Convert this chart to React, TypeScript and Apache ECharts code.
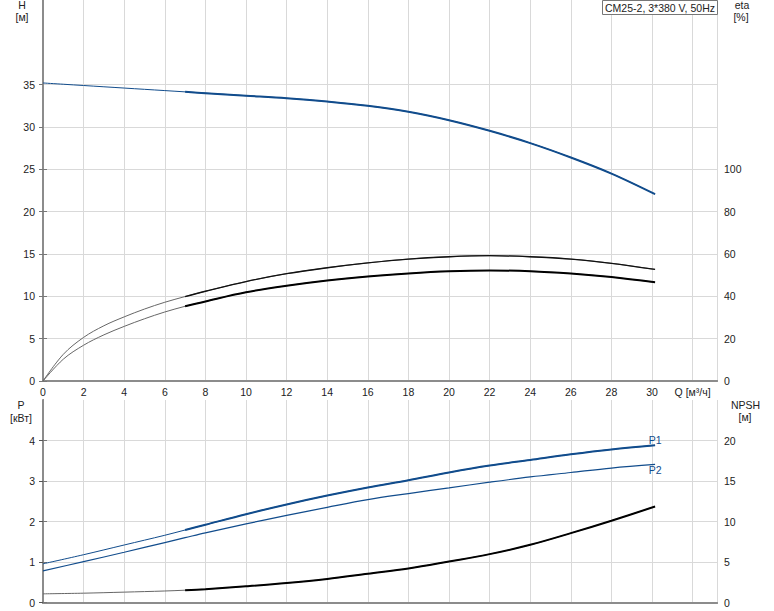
import React, { useEffect, useRef } from "react";
import * as echarts from "echarts";

// ---- Data ----
const TITLE = "CM25-2, 3*380 V, 50Hz";

// Top plot flow points [м³/ч]
const Q_TOP = [0, 1, 2, 3, 4, 5, 6, 7, 8, 10, 12, 14, 16, 18, 20, 22, 24, 26, 28, 30.15];
// Flow where the bold (operating) part of the curves starts
const Q_BOLD_FROM = 7;

// Head H [м]
const H = [35.2, 35.05, 34.9, 34.75, 34.6, 34.45, 34.3, 34.15, 34.0, 33.7, 33.4, 33.0, 32.5, 31.8, 30.8, 29.55, 28.1, 26.4, 24.5, 22.07];

// Efficiency eta [%] (upper thin curve and lower bold curve)
const ETA1 = [0, 12.6, 20.6, 26.1, 30.3, 34.0, 37.2, 39.9, 42.4, 47.0, 50.7, 53.5, 55.8, 57.6, 58.7, 59.2, 58.7, 57.6, 55.6, 52.7];
const ETA2 = [0, 10.3, 16.9, 21.8, 25.8, 29.4, 32.6, 35.3, 37.6, 41.9, 45.0, 47.5, 49.4, 50.8, 51.8, 52.2, 51.9, 50.8, 49.1, 46.6];

// Bottom plot flow points [м³/ч]
const Q_BOT = [0, 2, 4, 6, 7, 8, 10, 12, 14, 16, 18, 20, 22, 24, 26, 28, 30.15];

// Power P [кВт]
const P1 = [0.955, 1.18, 1.42, 1.66, 1.79, 1.92, 2.18, 2.42, 2.64, 2.84, 3.02, 3.21, 3.38, 3.52, 3.66, 3.78, 3.88];
const P2 = [0.78, 1.01, 1.24, 1.48, 1.6, 1.72, 1.94, 2.15, 2.35, 2.54, 2.69, 2.83, 2.97, 3.1, 3.21, 3.32, 3.41];

// NPSH [м]
const NPSH = [1.07, 1.15, 1.28, 1.42, 1.52, 1.65, 2.0, 2.4, 2.9, 3.55, 4.2, 5.06, 5.97, 7.12, 8.56, 10.1, 11.85];

// Tick labels
const Q_TICKS = [0, 2, 4, 6, 8, 10, 12, 14, 16, 18, 20, 22, 24, 26, 28, 30];
const Q_AXIS_LABEL = "Q [м³/ч]";
const H_TICKS = [0, 5, 10, 15, 20, 25, 30, 35];
const ETA_TICKS = [0, 20, 40, 60, 80, 100];
const P_TICKS = [0, 1, 2, 3, 4];
const NPSH_TICKS = [0, 5, 10, 15, 20];

const pairs = (xs: number[], ys: number[]) => xs.map((x, i) => [x, ys[i]]);
const boldPart = (xs: number[], ys: number[]) =>
  pairs(xs, ys).filter((p) => p[0] >= Q_BOLD_FROM);

const FONT = "'Liberation Sans', Arial, sans-serif";
const BLUE = "#114c8c";
const TEXT = "#222";
const GRIDC = "#d9d9d9";
const FRAME = "#8c8c8c";
const FS = 10.5;

export default function App() {
  const ref = useRef<HTMLDivElement>(null);

  useEffect(() => {
    if (!ref.current) return;
    const chart = echarts.init(ref.current, undefined, { renderer: "svg" });

    const xCommon = {
      type: "value" as const,
      min: 0,
      max: 33.2,
      interval: 2,
    };

    const line = (
      name: string,
      data: any[],
      xi: number,
      yi: number,
      color: string,
      width: number,
      z = 3
    ) => ({
      name,
      type: "line",
      xAxisIndex: xi,
      yAxisIndex: yi,
      data,
      smooth: 0.35,
      showSymbol: false,
      symbol: "none",
      silent: true,
      z,
      lineStyle: { color, width },
    });

    const p1Bold: any[] = boldPart(Q_BOT, P1);
    p1Bold[p1Bold.length - 1] = {
      value: p1Bold[p1Bold.length - 1],
      label: { show: true, position: "top", distance: 0, formatter: "P1", color: BLUE, fontSize: FS, fontFamily: FONT },
    };
    const p2Full: any[] = pairs(Q_BOT, P2);
    p2Full[p2Full.length - 1] = {
      value: p2Full[p2Full.length - 1],
      label: { show: true, position: "bottom", distance: 0, formatter: "P2", color: BLUE, fontSize: FS, fontFamily: FONT },
    };

    const labelledLine = (base: any) => ({
      ...base,
      symbol: "circle",
      symbolSize: 0,
      showSymbol: true,
      itemStyle: { color: "transparent" },
      label: { show: false },
    });

    const txt = (text: string, x: number, y: number) => ({
      type: "text",
      x,
      y,
      z: 50,
      style: { text, fill: TEXT, font: `${FS}px ${FONT}`, textAlign: "center", textVerticalAlign: "middle" },
    });

    const option: any = {
      animation: false,
      backgroundColor: "#fff",
      textStyle: { fontFamily: FONT },
      grid: [
        { left: 43, right: 57, top: 0, height: 381 },
        { left: 43, right: 57, top: 400, height: 202.5 },
      ],
      xAxis: [
        {
          ...xCommon,
          gridIndex: 0,
          position: "bottom",
          axisLine: { show: true, lineStyle: { color: FRAME, width: 2 } },
          axisTick: { show: false },
          axisLabel: {
            margin: 5,
            fontSize: FS,
            color: TEXT,
            fontFamily: FONT,
            formatter: (v: number) =>
              v === 32 ? Q_AXIS_LABEL : Q_TICKS.indexOf(v) >= 0 ? String(v) : "",
          },
          splitLine: { show: true, lineStyle: { color: GRIDC, width: 1 } },
        },
        {
          ...xCommon,
          gridIndex: 0,
          position: "top",
          axisLine: { show: true, lineStyle: { color: FRAME, width: 2 } },
          axisTick: { show: false },
          axisLabel: { show: false },
          splitLine: { show: false },
        },
        {
          ...xCommon,
          gridIndex: 1,
          position: "bottom",
          axisLine: { show: true, lineStyle: { color: FRAME, width: 2 } },
          axisTick: { show: false },
          axisLabel: { show: false },
          splitLine: { show: true, lineStyle: { color: GRIDC, width: 1 } },
        },
        {
          ...xCommon,
          gridIndex: 1,
          position: "top",
          axisLine: { show: true, lineStyle: { color: FRAME, width: 2 } },
          axisTick: { show: false },
          axisLabel: { show: false },
          splitLine: { show: false },
        },
      ],
      yAxis: [
        {
          type: "value",
          gridIndex: 0,
          position: "left",
          min: 0,
          max: 45,
          interval: 5,
          axisLine: { show: true, lineStyle: { color: "#111", width: 1 } },
          axisTick: { show: true, length: 4, lineStyle: { color: "#777" }, customValues: H_TICKS },
          axisLabel: { margin: 8, fontSize: FS, color: TEXT, fontFamily: FONT, customValues: H_TICKS },
          splitLine: { show: true, lineStyle: { color: GRIDC, width: 1 } },
        },
        {
          type: "value",
          gridIndex: 0,
          position: "right",
          min: 0,
          max: 180,
          interval: 20,
          axisLine: { show: true, lineStyle: { color: FRAME, width: 2 } },
          axisTick: { show: true, length: 4, lineStyle: { color: "#777" }, customValues: ETA_TICKS },
          axisLabel: { margin: 7, fontSize: FS, color: TEXT, fontFamily: FONT, customValues: ETA_TICKS },
          splitLine: { show: false },
        },
        {
          type: "value",
          gridIndex: 1,
          position: "left",
          min: 0,
          max: 5,
          interval: 1,
          axisLine: { show: true, lineStyle: { color: "#111", width: 1 } },
          axisTick: { show: true, length: 4, lineStyle: { color: "#555" }, customValues: P_TICKS },
          axisLabel: { margin: 8, fontSize: FS, color: TEXT, fontFamily: FONT, customValues: P_TICKS },
          splitLine: { show: true, lineStyle: { color: GRIDC, width: 1 } },
        },
        {
          type: "value",
          gridIndex: 1,
          position: "right",
          min: 0,
          max: 25,
          interval: 5,
          axisLine: { show: true, lineStyle: { color: FRAME, width: 2 } },
          axisTick: { show: true, length: 4, lineStyle: { color: "#777" }, customValues: NPSH_TICKS },
          axisLabel: { margin: 7, fontSize: FS, color: TEXT, fontFamily: FONT, customValues: NPSH_TICKS },
          splitLine: { show: false },
        },
      ],
      series: [
        line("H thin", pairs(Q_TOP, H), 0, 0, BLUE, 1, 3),
        line("H", boldPart(Q_TOP, H), 0, 0, BLUE, 2, 4),
        line("eta1 thin", pairs(Q_TOP, ETA1), 0, 1, "#666", 1, 3),
        line("eta1", boldPart(Q_TOP, ETA1), 0, 1, "#111", 1.3, 4),
        line("eta2 thin", pairs(Q_TOP, ETA2), 0, 1, "#666", 1, 3),
        line("eta2", boldPart(Q_TOP, ETA2), 0, 1, "#000", 2, 4),
        line("P1 thin", pairs(Q_BOT, P1), 2, 2, BLUE, 1, 3),
        labelledLine(line("P1", p1Bold, 2, 2, BLUE, 2, 4)),
        labelledLine(line("P2", p2Full, 2, 2, BLUE, 1.2, 4)),
        line("NPSH thin", pairs(Q_BOT, NPSH), 2, 3, "#666", 1, 3),
        line("NPSH", boldPart(Q_BOT, NPSH), 2, 3, "#000", 2, 4),
      ],
      graphic: [
        txt("H", 22, 5),
        txt("[м]", 22, 17),
        txt("eta", 742, 5),
        txt("[%]", 741, 17),
        txt("P", 21, 405),
        txt("[кВт]", 21, 417.5),
        txt("NPSH", 745.5, 405),
        txt("[м]", 745, 417),
        {
          type: "rect",
          z: 100,
          shape: { x: 602.5, y: 0.5, width: 115, height: 14 },
          style: { fill: "#fff", stroke: "#777", lineWidth: 1 },
        },
        { ...txt(TITLE, 660, 8), z: 101 },
      ],
    };

    chart.setOption(option);
    return () => chart.dispose();
  }, []);

  return (
    <div
      ref={ref}
      style={{ position: "absolute", left: 0, top: 0, width: 774, height: 611 }}
    />
  );
}
